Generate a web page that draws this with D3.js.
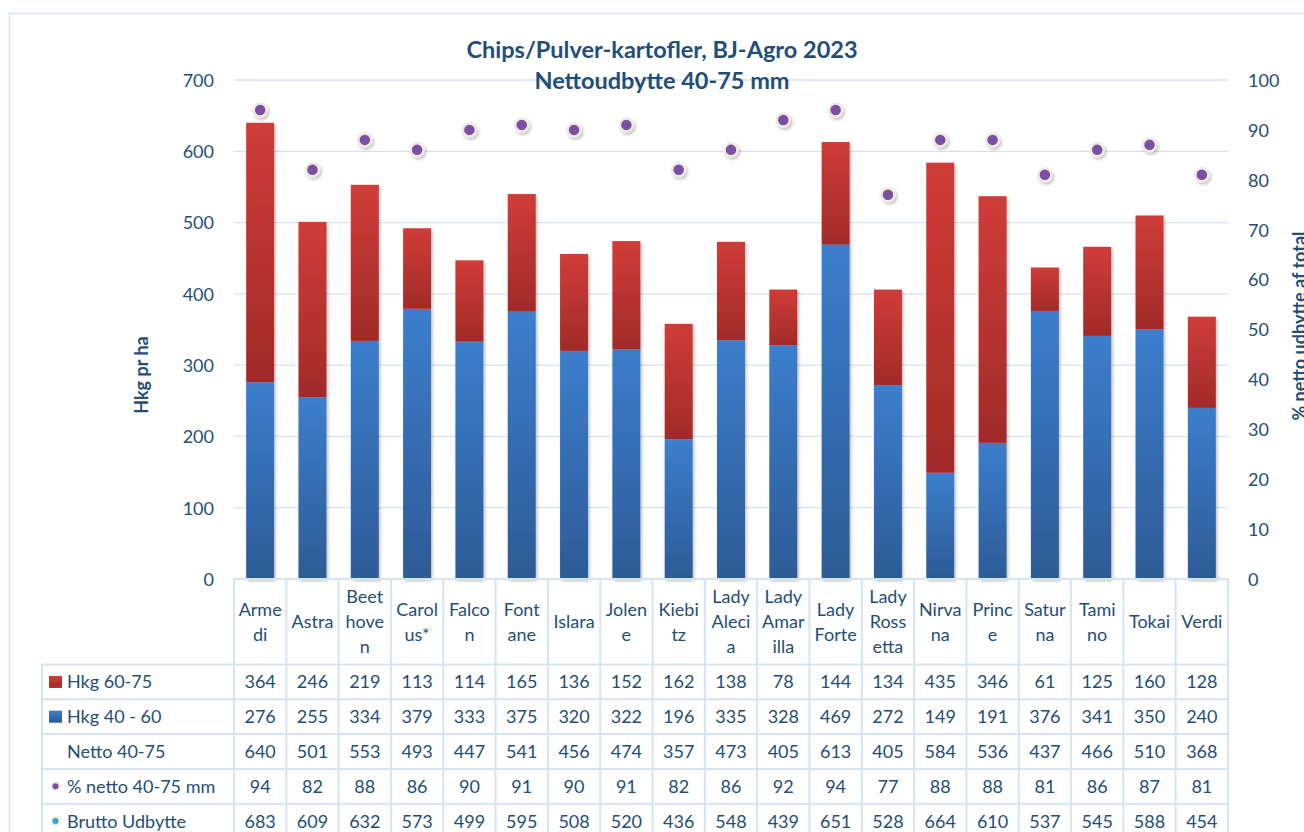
<!DOCTYPE html>
<html>
<head>
<meta charset="utf-8">
<script src="https://cdn.jsdelivr.net/npm/d3@7"></script>
<style>
  body { margin: 0; background: #fff; }
  svg text { font-family: Lato, "Open Sans", sans-serif; fill: #1f4e79; }
</style>
</head>
<body>
<div id="chart-area"></div>
<script>
// data
var categories = ["Armedi", "Astra", "Beethoven", "Carolus*", "Falcon", "Fontane", "Islara", "Jolene", "Kiebitz",
  "Lady Alecia", "Lady Amarilla", "Lady Forte", "Lady Rossetta", "Nirvana", "Prince", "Saturna", "Tamino", "Tokai", "Verdi"];
// header text as wrapped in the table
var headerLines = [["Arme", "di"], ["Astra"], ["Beet", "hove", "n"], ["Carol", "us*"], ["Falco", "n"], ["Font", "ane"],
  ["Islara"], ["Jolen", "e"], ["Kiebi", "tz"], ["Lady", "Aleci", "a"], ["Lady", "Amar", "illa"], ["Lady", "Forte"],
  ["Lady", "Ross", "etta"], ["Nirva", "na"], ["Princ", "e"], ["Satur", "na"], ["Tami", "no"], ["Tokai"], ["Verdi"]];
var hkg6075 = [364, 246, 219, 113, 114, 165, 136, 152, 162, 138, 78, 144, 134, 435, 346, 61, 125, 160, 128];
var hkg4060 = [276, 255, 334, 379, 333, 375, 320, 322, 196, 335, 328, 469, 272, 149, 191, 376, 341, 350, 240];
var netto = [640, 501, 553, 493, 447, 541, 456, 474, 357, 473, 405, 613, 405, 584, 536, 437, 466, 510, 368];
var pctNetto = [94, 82, 88, 86, 90, 91, 90, 91, 82, 86, 92, 94, 77, 88, 88, 81, 86, 87, 81];
var brutto = [683, 609, 632, 573, 499, 595, 508, 520, 436, 548, 439, 651, 528, 664, 610, 537, 545, 588, 454];
var leftTicks = [0, 100, 200, 300, 400, 500, 600, 700];
var rightTicks = [0, 10, 20, 30, 40, 50, 60, 70, 80, 90, 100];

var rowNames = ["Hkg 60-75", "Hkg 40 - 60", "Netto 40-75", "% netto 40-75 mm", "Brutto Udbytte"];
var rowValues = [hkg6075, hkg4060, netto, pctNetto, brutto];

var W = 1304, H = 832;
var plot = {left: 234, right: 1228, top: 80, bottom: 579};
var textCol = "#1f4e79";
var lineCol = "#d6e3f4";

var svg = d3.select("#chart-area").append("svg")
  .attr("width", W).attr("height", H);

var defs = svg.append("defs");
function grad(id, top, bottom) {
  var g = defs.append("linearGradient").attr("id", id)
    .attr("x1", 0).attr("y1", 0).attr("x2", 0).attr("y2", 1);
  g.append("stop").attr("offset", "0%").attr("stop-color", top);
  g.append("stop").attr("offset", "100%").attr("stop-color", bottom);
}
grad("gBlue", "#3c7ecd", "#2d5b96");
grad("gRed", "#d03c38", "#a12b29");
var sh = defs.append("filter").attr("id", "shadow")
  .attr("x", "-30%").attr("y", "-10%").attr("width", "160%").attr("height", "130%");
sh.append("feDropShadow").attr("dx", 1.5).attr("dy", 2).attr("stdDeviation", 1.5)
  .attr("flood-color", "#000").attr("flood-opacity", 0.25);

// outer chart frame
svg.append("rect")
  .attr("x", 9.5).attr("y", 13.5).attr("width", W + 20).attr("height", H + 20)
  .attr("fill", "none").attr("stroke", lineCol).attr("stroke-width", 1.5);

var x = d3.scaleBand().domain(categories).range([plot.left, plot.right])
  .paddingInner(0.465).paddingOuter(0.2325);
var y = d3.scaleLinear().domain([0, 700]).range([plot.bottom, plot.top]);
var y2 = d3.scaleLinear().domain([0, 100]).range([plot.bottom, plot.top]);
var step = x.step();
var colLeft = function(i) { return plot.left + i * step; };

// gridlines
svg.append("g").selectAll("line").data(leftTicks.slice(1)).join("line")
  .attr("x1", plot.left).attr("x2", plot.right)
  .attr("y1", function(d) { return y(d); }).attr("y2", function(d) { return y(d); })
  .attr("stroke", lineCol).attr("stroke-width", 1.3);

// left axis
var yAxis = svg.append("g").attr("transform", "translate(" + (plot.left - 20) + ",0)")
  .call(d3.axisLeft(y).tickValues(leftTicks).tickSize(0).tickPadding(0));
yAxis.select(".domain").remove();
yAxis.selectAll("text").attr("font-size", "18px").style("fill", textCol).attr("dy", "0.35em");

// right axis
var yAxis2 = svg.append("g").attr("transform", "translate(" + (plot.right + 20) + ",0)")
  .call(d3.axisRight(y2).tickValues(rightTicks).tickSize(0).tickPadding(0));
yAxis2.select(".domain").remove();
yAxis2.selectAll("text").attr("font-size", "18px").style("fill", textCol).attr("dy", "0.35em");

// axis titles
svg.append("text")
  .attr("transform", "translate(148,375) rotate(-90)")
  .attr("text-anchor", "middle").attr("font-size", "18px").attr("font-weight", "bold")
  .text("Hkg pr ha");
svg.append("text")
  .attr("transform", "translate(1306,326) rotate(-90)")
  .attr("text-anchor", "middle").attr("font-size", "18px").attr("font-weight", "bold")
  .text("% netto udbytte af total");

// title
svg.append("text").attr("x", 662).attr("y", 58).attr("text-anchor", "middle")
  .attr("font-size", "23.5px").attr("font-weight", "bold").text("Chips/Pulver-kartofler, BJ-Agro 2023");
svg.append("text").attr("x", 662).attr("y", 89).attr("text-anchor", "middle")
  .attr("font-size", "23.5px").attr("font-weight", "bold").text("Nettoudbytte 40-75 mm");

// stacked bars
var bars = svg.append("g").attr("filter", "url(#shadow)");
bars.selectAll("rect.blue").data(categories).join("rect").attr("class", "blue")
  .attr("x", function(d) { return x(d); }).attr("width", x.bandwidth())
  .attr("y", function(d, i) { return y(hkg4060[i]); })
  .attr("height", function(d, i) { return y(0) - y(hkg4060[i]); })
  .attr("fill", "url(#gBlue)");
bars.selectAll("rect.red").data(categories).join("rect").attr("class", "red")
  .attr("x", function(d) { return x(d); }).attr("width", x.bandwidth())
  .attr("y", function(d, i) { return y(hkg4060[i] + hkg6075[i]); })
  .attr("height", function(d, i) { return y(hkg4060[i]) - y(hkg4060[i] + hkg6075[i]); })
  .attr("fill", "url(#gRed)");

// % markers
svg.append("g").attr("filter", "url(#shadow)")
  .selectAll("circle").data(categories).join("circle")
  .attr("cx", function(d) { return x(d) + x.bandwidth() / 2; })
  .attr("cy", function(d, i) { return y2(pctNetto[i]); })
  .attr("r", 6.5)
  .attr("fill", "#7b4fa3").attr("stroke", "#efebe0").attr("stroke-width", 2.5);

// data table
var headTop = plot.bottom, rowTop = 664.5, rowH = 34.8, tableLeft = 42;
var tbl = svg.append("g");
// horizontal lines
tbl.append("line").attr("x1", plot.left).attr("x2", plot.right)
  .attr("y1", headTop).attr("y2", headTop).attr("stroke", lineCol).attr("stroke-width", 2);
d3.range(rowNames.length + 1).forEach(function(r) {
  tbl.append("line").attr("x1", tableLeft).attr("x2", plot.right)
    .attr("y1", rowTop + r * rowH).attr("y2", rowTop + r * rowH)
    .attr("stroke", lineCol).attr("stroke-width", 2);
});
// vertical lines
tbl.append("line").attr("x1", tableLeft).attr("x2", tableLeft)
  .attr("y1", rowTop).attr("y2", H).attr("stroke", lineCol).attr("stroke-width", 2);
d3.range(categories.length + 1).forEach(function(i) {
  tbl.append("line").attr("x1", colLeft(i)).attr("x2", colLeft(i))
    .attr("y1", headTop).attr("y2", H).attr("stroke", lineCol).attr("stroke-width", 2);
});

// header (category names)
headerLines.forEach(function(lines, i) {
  var cx = x(categories[i]) + x.bandwidth() / 2;
  var n = lines.length;
  lines.forEach(function(s, k) {
    tbl.append("text").attr("x", cx).attr("y", 628 + (k - (n - 1) / 2) * 25)
      .attr("text-anchor", "middle").attr("font-size", "18px").text(s);
  });
});

// rows
rowNames.forEach(function(name, r) {
  var cy = rowTop + r * rowH + rowH / 2;
  tbl.append("text").attr("x", 67).attr("y", cy + 6.5).attr("font-size", "18px").text(name);
  rowValues[r].forEach(function(v, i) {
    tbl.append("text").attr("x", x(categories[i]) + x.bandwidth() / 2).attr("y", cy + 6.5)
      .attr("text-anchor", "middle").attr("font-size", "18px").text(v);
  });
});

// legend keys in the table
var k0 = rowTop + rowH / 2, k1 = rowTop + rowH * 1.5;
tbl.append("rect").attr("x", 49).attr("y", k0 - 6).attr("width", 13).attr("height", 12).attr("fill", "url(#gRed)");
tbl.append("rect").attr("x", 49).attr("y", k1 - 6).attr("width", 13).attr("height", 12).attr("fill", "url(#gBlue)");
tbl.append("circle").attr("cx", 55.5).attr("cy", rowTop + rowH * 3.5).attr("r", 4)
  .attr("fill", "#7b4fa3").attr("stroke", "#efebe0").attr("stroke-width", 2);
tbl.append("circle").attr("cx", 55.5).attr("cy", rowTop + rowH * 4.5).attr("r", 4)
  .attr("fill", "#2fa8c6").attr("stroke", "#efebe0").attr("stroke-width", 2);
</script>
</body>
</html>
